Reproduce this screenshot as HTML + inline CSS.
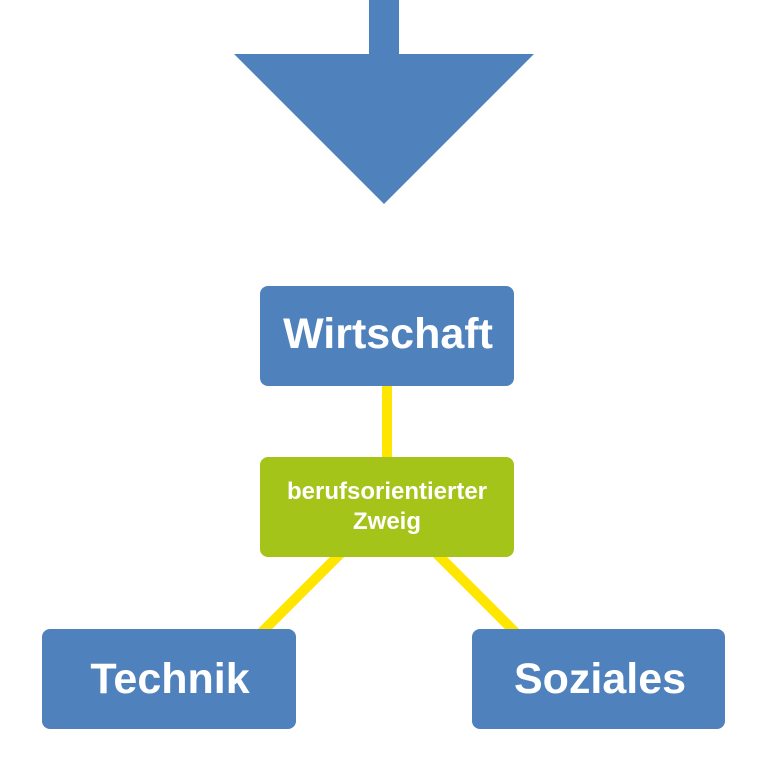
<!DOCTYPE html>
<html>
<head>
<meta charset="utf-8">
<style>
  html, body { margin: 0; padding: 0; background: #ffffff; }
  body { width: 768px; height: 768px; overflow: hidden; }
  svg { display: block; }
  text { font-family: "Liberation Sans", Arial, sans-serif; font-weight: bold; fill: #ffffff; }
</style>
</head>
<body>
<svg width="768" height="768" viewBox="0 0 768 768" xmlns="http://www.w3.org/2000/svg">
  <!-- Arrow -->
  <polygon points="369,0 399,0 399,54 534,54 384,204 234,54 369,54" fill="#4f81bd"/>

  <!-- Yellow connectors -->
  <line x1="387" y1="380" x2="387" y2="470" stroke="#ffe600" stroke-width="10"/>
  <line x1="387" y1="507" x2="212" y2="682" stroke="#ffe600" stroke-width="10"/>
  <line x1="390" y1="507" x2="565" y2="682" stroke="#ffe600" stroke-width="10"/>

  <!-- Wirtschaft -->
  <rect x="260" y="286" width="254" height="100" rx="8" ry="8" fill="#4f81bd"/>
  <text x="388" y="348" font-size="43" text-anchor="middle">Wirtschaft</text>

  <!-- berufsorientierter Zweig -->
  <rect x="260" y="457" width="254" height="100" rx="8" ry="8" fill="#a5c41a"/>
  <text x="387" y="499" font-size="24" text-anchor="middle">berufsorientierter</text>
  <text x="387" y="529" font-size="24" text-anchor="middle">Zweig</text>

  <!-- Technik -->
  <rect x="42" y="629" width="254" height="100" rx="8" ry="8" fill="#4f81bd"/>
  <text x="170" y="693" font-size="43" text-anchor="middle">Technik</text>

  <!-- Soziales -->
  <rect x="472" y="629" width="253" height="100" rx="8" ry="8" fill="#4f81bd"/>
  <text x="600" y="693" font-size="43" text-anchor="middle">Soziales</text>
</svg>
</body>
</html>
